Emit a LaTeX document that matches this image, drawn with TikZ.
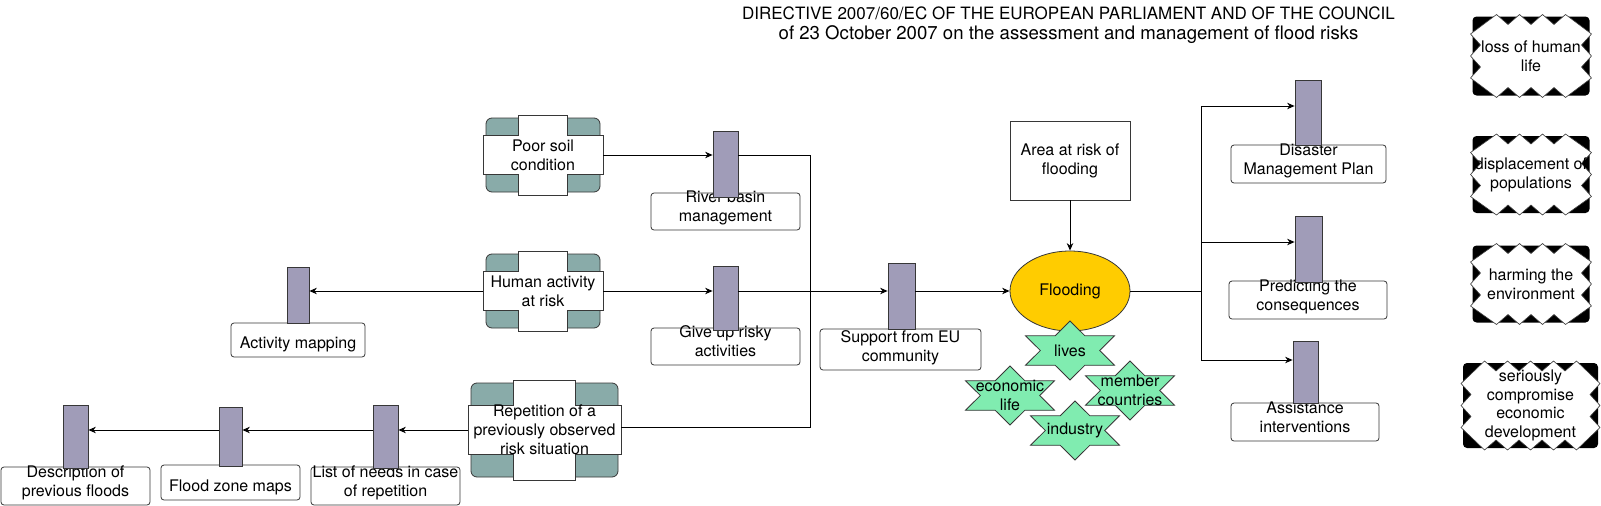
\documentclass[tikz,border=0pt]{standalone}
\usepackage{fontspec}
\setmainfont{TeX Gyre Heros}
\usetikzlibrary{arrows.meta,calc,shapes.geometric}
\definecolor{tealc}{RGB}{137,171,169}
\definecolor{barc}{RGB}{160,156,184}
\definecolor{goldc}{RGB}{255,204,0}
\definecolor{starc}{RGB}{128,236,176}
\definecolor{edgec}{RGB}{55,55,55}
\tikzset{
  every node/.style={font=\fontsize{16}{18.8}\selectfont, align=center, inner sep=0pt},
  ln/.style={line width=0.9pt, black},
  arr/.style={line width=0.9pt, black, -{Stealth[length=7.5pt,width=6.5pt]}},
  pbar/.style={rectangle, draw=edgec, fill=barc, line width=0.8pt},
  lbox/.style={rectangle, draw=edgec, fill=white, rounded corners=3pt, line width=0.8pt},
  ltext/.style={anchor=south},
  sbox/.style={rectangle, draw=edgec, fill=white, line width=0.8pt},
}
\newcommand\myxcross[6]{%
  \fill[tealc, draw=edgec, line width=0.8pt, rounded corners=6pt] ({#2-#4/2+3},{#3-#5/2+3}) rectangle ({#2+#4/2-3},{#3+#5/2-3});
  \filldraw[fill=white, draw=edgec, line width=0.8pt] ({#2-0.205*#4},{#3-#5/2}) -- ({#2+0.205*#4},{#3-#5/2}) -- ({#2+0.205*#4},{#3-0.245*#5}) -- ({#2+#4/2},{#3-0.245*#5}) -- ({#2+#4/2},{#3+0.245*#5}) -- ({#2+0.205*#4},{#3+0.245*#5}) -- ({#2+0.205*#4},{#3+#5/2}) -- ({#2-0.205*#4},{#3+#5/2}) -- ({#2-0.205*#4},{#3+0.245*#5}) -- ({#2-#4/2},{#3+0.245*#5}) -- ({#2-#4/2},{#3-0.245*#5}) -- ({#2-0.205*#4},{#3-0.245*#5}) -- cycle;
  \node[minimum width=#4, minimum height=#5] (#1) at (#2,#3) {#6};
}
\newcommand\mystar[4]{%
  \filldraw[fill=starc, draw=edgec, line width=0.8pt] (#2,{#3-29.5}) -- ({#2+14.83},{#3-14.75}) -- ({#2+44.5},{#3-14.75}) -- ({#2+29.67},#3) -- ({#2+44.5},{#3+14.75}) -- ({#2+14.83},{#3+14.75}) -- (#2,{#3+29.5}) -- ({#2-14.83},{#3+14.75}) -- ({#2-44.5},{#3+14.75}) -- ({#2-29.67},#3) -- ({#2-44.5},{#3-14.75}) -- ({#2-14.83},{#3-14.75}) -- cycle;
  \node (#1) at (#2,#3) {#4};
}
% zigzag frame: name, cx, cy, w, h, peaks on top, peaks on side, text
\newcommand\myzz[8]{%
  \pgfmathsetmacro\zzL{#2-#4/2}\pgfmathsetmacro\zzR{#2+#4/2}%
  \pgfmathsetmacro\zzT{#3-#5/2}\pgfmathsetmacro\zzB{#3+#5/2}%
  \pgfmathsetmacro\zzX{(#4-(#6-1)*23)/2}\pgfmathsetmacro\zzY{(#5-(#7-1)*22)/2}%
  \pgfmathtruncatemacro\zzN{#6-1}\pgfmathtruncatemacro\zzM{#7-1}%
  \fill[black, rounded corners=4pt] (\zzL,\zzT) rectangle (\zzR,\zzB);
  \filldraw[fill=white, draw=edgec, line width=0.6pt] ({\zzL-2},{\zzT+\zzY}) -- ({\zzL+\zzX},{\zzT-2})
    \foreach \i in {1,...,\zzN} { -- ({\zzL+\zzX+(\i-0.5)*23},{\zzT+8}) -- ({\zzL+\zzX+\i*23},{\zzT-2}) }
    -- ({\zzR+2},{\zzT+\zzY})
    \foreach \j in {1,...,\zzM} { -- ({\zzR-8},{\zzT+\zzY+(\j-0.5)*22}) -- ({\zzR+2},{\zzT+\zzY+\j*22}) }
    -- ({\zzR-\zzX},{\zzB+2})
    \foreach \i in {1,...,\zzN} { -- ({\zzR-\zzX-(\i-0.5)*23},{\zzB-8}) -- ({\zzR-\zzX-\i*23},{\zzB+2}) }
    -- ({\zzL-2},{\zzB-\zzY})
    \foreach \j in {1,...,\zzM} { -- ({\zzL+8},{\zzB-\zzY-(\j-0.5)*22}) -- ({\zzL-2},{\zzB-\zzY-\j*22}) }
    -- cycle;
  \node (#1) at (#2,#3) {#8};
}
\begin{document}
\begin{tikzpicture}[x=1pt,y=-1pt]
\useasboundingbox (0,0) rectangle (1601,506);
\fill[white] (0,0) rectangle (1601,506);

% title
\node[font=\fontsize{17}{20}\selectfont] (title) at (1068.5,25) {DIRECTIVE 2007/60/EC OF THE EUROPEAN PARLIAMENT AND OF THE COUNCIL\\{\fontsize{18.6}{20}\selectfont of 23 October 2007 on the assessment and management of flood risks}};

% cross shapes
\myxcross{ps}{543}{155}{120}{80}{Poor soil\\condition}
\myxcross{ha}{543}{291}{120}{80}{Human activity\\at risk}
\myxcross{rp}{544.5}{430}{153}{100}{Repetition of a\\previously observed\\risk situation}

% label boxes and bars
\node[lbox, minimum width=149, minimum height=37] (rbl) at (725.5,211.5) {};
\node[ltext] (rblt) at ([yshift=3.4pt]rbl.south) {River basin\\management\strut};
\node[pbar, minimum width=25, minimum height=66] (rbbar) at (725.5,164) {};

\node[lbox, minimum width=149, minimum height=37] (gul) at (725.5,346.5) {};
\node[ltext] (gult) at ([yshift=3.4pt]gul.south) {Give up risky\\activities\strut};
\node[pbar, minimum width=25, minimum height=64] (gubar) at (725.5,298) {};

\node[lbox, minimum width=134, minimum height=34] (aml) at (298,340) {};
\node[ltext] (amlt) at ([yshift=3.4pt]aml.south) {Activity mapping\strut};
\node[pbar, minimum width=22, minimum height=56] (ambar) at (298,295) {};

\node[lbox, minimum width=161, minimum height=41] (supl) at (900.5,349.5) {};
\node[ltext] (suplt) at ([yshift=3.4pt]supl.south) {Support from EU\\community\strut};
\node[pbar, minimum width=27, minimum height=66] (supbar) at (901.5,296) {};

\node[lbox, minimum width=149, minimum height=38] (lnl) at (385.5,486) {};
\node[ltext] (lnlt) at ([yshift=3.4pt]lnl.south) {List of needs in case\\of repetition\strut};
\node[pbar, minimum width=25, minimum height=63] (lnbar) at (385.5,436.5) {};

\node[lbox, minimum width=139, minimum height=35] (fzl) at (230.5,482.5) {};
\node[ltext] (fzlt) at ([yshift=3.4pt]fzl.south) {Flood zone maps\strut};
\node[pbar, minimum width=23, minimum height=59] (fzbar) at (230.5,436.5) {};

\node[lbox, minimum width=149, minimum height=38] (dsl) at (75.5,486) {};
\node[ltext] (dslt) at ([yshift=3.4pt]dsl.south) {Description of\\previous floods\strut};
\node[pbar, minimum width=25, minimum height=63] (dsbar) at (75.5,436.5) {};

\node[lbox, minimum width=155, minimum height=38] (dml) at (1308.5,164) {};
\node[ltext] (dmlt) at ([yshift=3.4pt]dml.south) {Disaster\\Management Plan\strut};
\node[pbar, minimum width=26, minimum height=65] (dmbar) at (1308,112.5) {};

\node[lbox, minimum width=158, minimum height=38] (pcl) at (1308,300) {};
\node[ltext] (pclt) at ([yshift=3.4pt]pcl.south) {Predicting the\\consequences\strut};
\node[pbar, minimum width=27, minimum height=66] (pcbar) at (1308.5,249) {};

\node[lbox, minimum width=148, minimum height=38] (asl) at (1305,422) {};
\node[ltext] (aslt) at ([yshift=3.4pt]asl.south) {Assistance\\interventions\strut};
\node[pbar, minimum width=25, minimum height=62] (asbar) at (1305.5,372) {};

% area and flooding
\node[sbox, minimum width=120, minimum height=79] (area) at (1070,160.5) {Area at risk of\\flooding};
\node[ellipse, draw=edgec, fill=goldc, line width=0.8pt, minimum width=120, minimum height=80] (fl) at (1070,291) {Flooding};

% stars
\mystar{lives}{1070}{350.5}{lives}
\mystar{econ}{1010}{395.5}{economic\\life}
\mystar{memb}{1130}{390.5}{member\\countries}
\mystar{ind}{1075}{430.5}{industry}

% consequence boxes
\myzz{loss}{1531}{56}{117}{79}{4}{3}{loss of human\\life}
\myzz{disp}{1531}{174.5}{117}{77}{4}{3}{displacement of\\populations}
\myzz{harm}{1531}{284}{117}{77}{4}{3}{harming the\\environment}
\myzz{seri}{1530.5}{405.5}{135}{85}{5}{3}{seriously\\compromise\\economic\\development}

% connectors
\coordinate (j) at (810,291);
\coordinate (t) at (1201,291);
\draw[arr] (ps.east) -- (ps.east -| rbbar.west);
\draw[arr] (ha.east) -- (ha.east -| gubar.west);
\draw[arr] (ha.west) -- (ha.west -| ambar.east);
\draw[arr] (gubar.east |- ha.east) -- (ha.east -| supbar.west);
\draw[ln] (rbbar.east |- ps.east) -| (j);
\draw[ln] ([yshift=3pt]rp.east) -| (j);
\draw[arr] (rp.west) -- (rp.west -| lnbar.east);
\draw[arr] (lnbar.west |- rp.west) -- (rp.west -| fzbar.east);
\draw[arr] (fzbar.west |- rp.west) -- (rp.west -| dsbar.east);
\draw[arr] (supbar.east |- fl.west) -- (fl.west);
\draw[arr] (area.south) -- (fl.north);
\draw[ln] (fl.east) -- (t);
\draw[arr] (t) |- ([yshift=6.5pt]dmbar.west);
\draw[arr] (t) |- ([yshift=7pt]pcbar.west);
\draw[arr] (t) |- ([yshift=12pt]asbar.west);
\end{tikzpicture}
\end{document}
